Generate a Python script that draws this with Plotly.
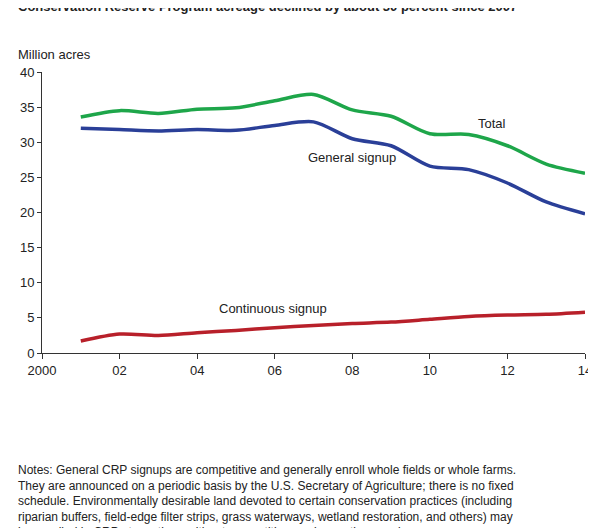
import plotly.graph_objects as go

years = list(range(2001, 2015))
total = [33.6, 34.5, 34.1, 34.7, 34.9, 35.9, 36.8, 34.6, 33.7, 31.2, 31.1, 29.5, 26.9, 25.6]
general = [32.0, 31.8, 31.6, 31.8, 31.7, 32.4, 32.9, 30.5, 29.5, 26.6, 26.1, 24.2, 21.5, 19.8]
continuous = [1.7, 2.7, 2.5, 2.9, 3.2, 3.6, 3.9, 4.2, 4.4, 4.8, 5.2, 5.4, 5.5, 5.8]
xticks = [2000, 2002, 2004, 2006, 2008, 2010, 2012, 2014]
xlabels = ["2000", "02", "04", "06", "08", "10", "12", "14"]

fig = go.Figure()
for y, c in [(total, "#1ea64a"), (general, "#2a3f98"), (continuous, "#b8202a")]:
    fig.add_trace(go.Scatter(x=years, y=y, mode="lines", line=dict(color=c, width=3.5, shape="spline", smoothing=0.8),
                             hoverinfo="skip", showlegend=False))

f = dict(family="Liberation Sans, Arial", size=13, color="#222")
fig.add_annotation(x=2011.2, y=31.3, text="Total", showarrow=False, xanchor="left", yanchor="bottom", font=f)
fig.add_annotation(x=2006.8, y=26.5, text="General signup", showarrow=False, xanchor="left", yanchor="bottom", font=f)
fig.add_annotation(x=2004.5, y=5.0, text="Continuous signup", showarrow=False, xanchor="left", yanchor="bottom", font=f)

fig.add_annotation(xref="paper", yref="paper", x=-0.047, y=1.028, text="Million acres", showarrow=False,
                   xanchor="left", yanchor="bottom", font=f)
fig.add_annotation(xref="paper", yref="paper", x=-0.047, y=1.2, showarrow=False, xanchor="left", yanchor="bottom",
                   text="<b>Conservation Reserve Program acreage declined by about 30 percent since 2007</b>",
                   font=dict(family="Liberation Sans, Arial", size=13, color="#222"))
notes = ("Notes: General CRP signups are competitive and generally enroll whole fields or whole farms.<br>"
         "They are announced on a periodic basis by the U.S. Secretary of Agriculture; there is no fixed<br>"
         "schedule. Environmentally desirable land devoted to certain conservation practices (including<br>"
         "riparian buffers, field-edge filter strips, grass waterways, wetland restoration, and others) may<br>"
         "be enrolled in CRP at any time, without competition, under continuous signup.<br>"
         "Source:  USDA, Economic Research Service based on data from USDA Farm Service Agency<br>"
         "CRP summaries.")
fig.add_annotation(xref="paper", yref="paper", x=-0.047, y=-0.385, text=notes, showarrow=False, xanchor="left",
                   yanchor="top", align="left", font=dict(family="Liberation Sans, Arial", size=12, color="#222"))

fig.update_layout(
    width=596, height=528, margin=dict(l=28, r=16, t=64, b=183),
    plot_bgcolor="white", paper_bgcolor="white",
    xaxis=dict(range=[2000, 2014], tickvals=xticks, ticktext=xlabels, showgrid=False, showline=True,
               linecolor="#333", ticks="outside", ticklen=5, tickcolor="#333", tickfont=f, zeroline=False),
    yaxis=dict(range=[0, 40], dtick=5, showgrid=False, showline=True, linecolor="#333", ticks="outside",
               ticklen=4, tickcolor="#333", tickfont=f, zeroline=False),
)
fig.write_html("out.html")
